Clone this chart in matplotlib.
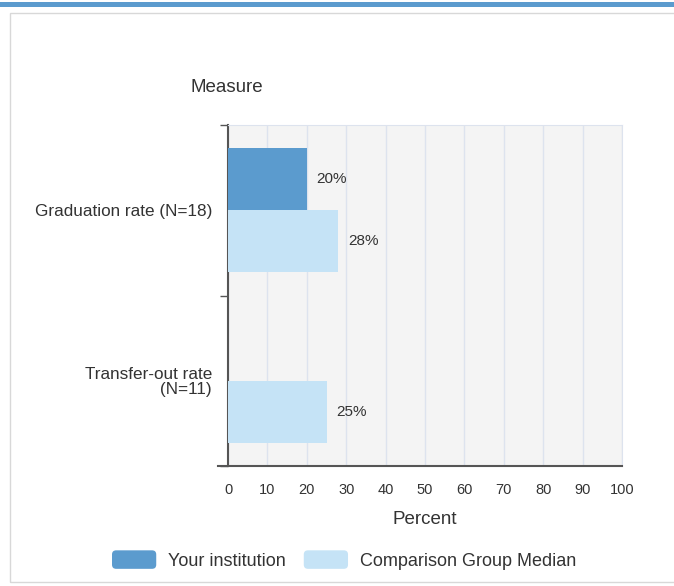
import numpy as np
import matplotlib
matplotlib.use('Agg')
import matplotlib.pyplot as plt
from matplotlib.patches import Rectangle, FancyBboxPatch
from matplotlib.legend_handler import HandlerPatch

plt.rcParams['font.family'] = ['Liberation Sans', 'DejaVu Sans']

measures = ['Graduation rate (N=18)', 'Transfer-out rate\n(N=11)']
your_inst = [20, np.nan]
comparison = [28, 25]
xticks = [0, 10, 20, 30, 40, 50, 60, 70, 80, 90, 100]

dark = '#5b9bce'
light = '#c5e3f6'
txt = '#333333'


class RoundBox(HandlerPatch):
    def create_artists(self, legend, orig, xd, yd, w, h, fs, trans):
        p = FancyBboxPatch((-xd, -yd), w, h, boxstyle='round,pad=0,rounding_size=3',
                           fc=orig.get_facecolor(), ec='none', transform=trans)
        return [p]


fig = plt.figure(figsize=(6.74, 5.86), dpi=100)

# top blue band and outer frame
fig.add_artist(Rectangle((0, 1 - 7 / 586), 1, 5 / 586, transform=fig.transFigure,
                         color=dark, lw=0))
fig.add_artist(Rectangle((10 / 674, 4 / 586), 1, 1 - 17 / 586, transform=fig.transFigure,
                         fill=False, ec='#d8d8d8', lw=1))

ax = fig.add_axes([228 / 674, 1 - 466 / 586, 394 / 674, 341 / 586])
ax.set_facecolor('#f4f4f4')

y = np.arange(len(measures))
h = 0.3625
b1 = ax.barh(y - h / 2, your_inst, height=h, color=dark, zorder=3)
b2 = ax.barh(y + h / 2, comparison, height=h, color=light, zorder=3)

for bars, vals in [(b1, your_inst), (b2, comparison)]:
    for bar, v in zip(bars, vals):
        if np.isnan(v):
            continue
        ax.text(v + 2.5, bar.get_y() + bar.get_height() / 2, '%d%%' % v,
                va='center', ha='left', fontsize=11, color=txt)

ax.set_xlim(0, 100)
ax.set_ylim(1.5, -0.5)
ax.set_xticks(xticks)
ax.set_xticklabels([str(t) for t in xticks], fontsize=10.5, color=txt)
ax.tick_params(axis='x', length=0, pad=12)
ax.set_yticks(y)
ax.set_yticklabels(measures, fontsize=12.3, color=txt, linespacing=0.95)
ax.set_yticks([-0.5, 0.5, 1.5], minor=True)
ax.tick_params(axis='y', which='major', length=0, pad=11.5)
ax.tick_params(axis='y', which='minor', length=6, width=1, color='#555555')

ax.grid(axis='x', color='#dde3ee', lw=1, zorder=0)
for s in ['top', 'right']:
    ax.spines[s].set_color('#dde3ee')
ax.spines['left'].set_color('#555555')
ax.spines['left'].set_linewidth(1.5)
ax.spines['bottom'].set_color('#555555')
ax.spines['bottom'].set_linewidth(1.5)
ax.spines['bottom'].set_bounds(-2.5, 100)
ax.spines['bottom'].set_clip_on(False)

ax.set_xlabel('Percent', fontsize=13.5, color=txt, labelpad=10)
fig.text(227 / 674, 1 - 88 / 586, 'Measure', fontsize=13.5, color=txt, ha='center', va='center')

h1, h2 = b1.patches[0], b2.patches[0]
leg = fig.legend([h1, h2], ['Your institution', 'Comparison Group Median'],
                 loc='center', bbox_to_anchor=(344 / 674, 1 - 560 / 586), ncol=2,
                 frameon=False, fontsize=13, handlelength=2.45, handleheight=1.2,
                 handletextpad=0.65, columnspacing=1.0, labelcolor=txt,
                 handler_map={h1: RoundBox(), h2: RoundBox()})

fig.savefig('out.png', dpi=100)
